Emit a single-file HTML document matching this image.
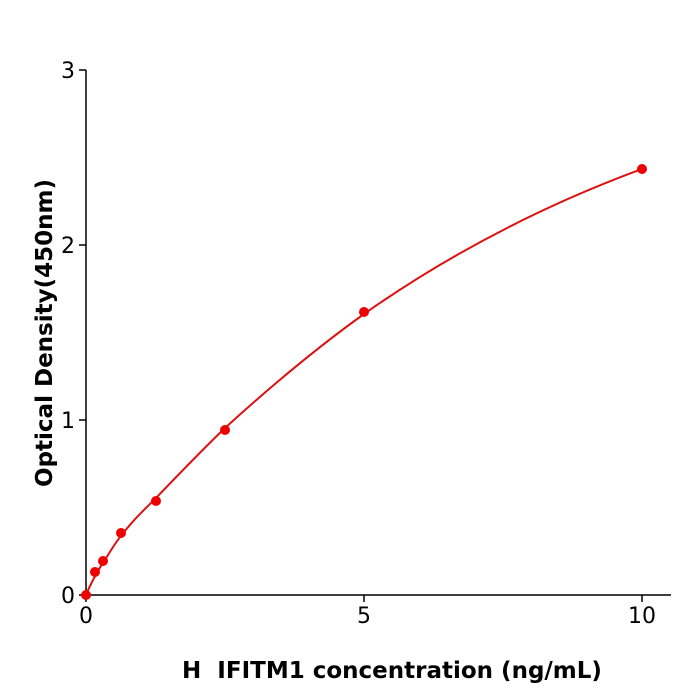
<!DOCTYPE html>
<html><head><style>body{margin:0;background:#fff}svg{display:block}</style></head><body>
<svg width="700" height="700" xmlns="http://www.w3.org/2000/svg" font-family="DejaVu Sans, Liberation Sans, sans-serif">
<g stroke="#000" stroke-width="1.5" fill="none">
<line x1="86" y1="70" x2="86" y2="596"/>
<line x1="85" y1="595" x2="671" y2="595"/>
<line x1="79" y1="595" x2="86" y2="595"/>
<line x1="79" y1="420" x2="86" y2="420"/>
<line x1="79" y1="245" x2="86" y2="245"/>
<line x1="79" y1="70" x2="86" y2="70"/>
<line x1="86" y1="595" x2="86" y2="602"/>
<line x1="364" y1="595" x2="364" y2="602"/>
<line x1="642" y1="595" x2="642" y2="602"/>
</g>
<g font-size="22" fill="#000">
<text x="75" y="603" text-anchor="end">0</text>
<text x="75" y="428" text-anchor="end">1</text>
<text x="75" y="253" text-anchor="end">2</text>
<text x="75" y="78" text-anchor="end">3</text>
<text x="86" y="623" text-anchor="middle">0</text>
<text x="364" y="623" text-anchor="middle">5</text>
<text x="642" y="623" text-anchor="middle">10</text>
</g>
<text x="392" y="678" text-anchor="middle" font-size="23" font-weight="bold">H&#160; IFITM1 concentration (ng/mL)</text>
<text transform="translate(52,333) rotate(-90)" text-anchor="middle" font-size="23" font-weight="bold">Optical Density(450nm)</text>
<path fill="none" stroke="#dd1111" stroke-width="2" stroke-linejoin="round" d="M86,595 C90,585 98,570 103,563 C110,552 115,543 121,536 C133,520 145,509 156,498 C180,473 202,450 225,428 C270,387 318,347 364,314 C455,250 550,203 642,169"/>
<g fill="#ee0000">
<circle cx="86" cy="595" r="5"/>
<circle cx="95" cy="572" r="5"/>
<circle cx="103" cy="561" r="5"/>
<circle cx="121" cy="533" r="5"/>
<circle cx="156" cy="501" r="5"/>
<circle cx="225" cy="430" r="5"/>
<circle cx="364" cy="312" r="5"/>
<circle cx="642" cy="169" r="5"/>
</g>
</svg>
</body></html>
